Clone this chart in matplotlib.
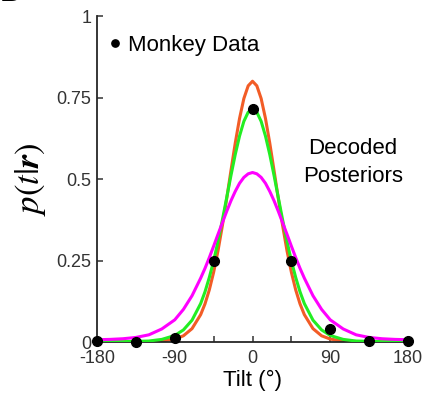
import numpy as np
import matplotlib
matplotlib.use("Agg")
import matplotlib.pyplot as plt

plt.rcParams["font.family"] = ["Liberation Sans", "DejaVu Sans"]
plt.rcParams["mathtext.fontset"] = "stix"

# curvas de posteriores decodificadas
tilt = [-180, -165, -150, -135, -120, -105, -90, -80, -70, -60,
        -55, -50, -45, -40, -35, -30, -25, -20, -15, -10, -5, 0,
        5, 10, 15, 20, 25, 30, 35, 40, 45, 50, 55,
        60, 70, 80, 90, 105, 120, 135, 150, 165, 180]

post_naranja = [0.000, 0.000, 0.000, 0.000, 0.001, 0.003, 0.009, 0.019, 0.041, 0.084,
                0.117, 0.160, 0.214, 0.279, 0.355, 0.438, 0.525, 0.610, 0.686, 0.747, 0.786, 0.800,
                0.786, 0.747, 0.686, 0.610, 0.525, 0.438, 0.355, 0.279, 0.214, 0.160, 0.117,
                0.084, 0.041, 0.019, 0.009, 0.003, 0.001, 0.000, 0.000, 0.000, 0.000]

post_verde = [0.001, 0.001, 0.001, 0.002, 0.003, 0.008, 0.020, 0.037, 0.067, 0.118,
              0.154, 0.198, 0.249, 0.308, 0.373, 0.441, 0.510, 0.575, 0.632, 0.677, 0.705, 0.715,
              0.705, 0.677, 0.632, 0.575, 0.510, 0.441, 0.373, 0.308, 0.249, 0.198, 0.154,
              0.118, 0.067, 0.037, 0.020, 0.008, 0.003, 0.002, 0.001, 0.001, 0.001]

post_magenta = [0.007, 0.008, 0.010, 0.014, 0.022, 0.040, 0.068, 0.100, 0.142, 0.196,
                0.226, 0.259, 0.294, 0.330, 0.365, 0.400, 0.433, 0.462, 0.487, 0.505, 0.516, 0.520,
                0.516, 0.505, 0.487, 0.462, 0.433, 0.400, 0.365, 0.330, 0.294, 0.259, 0.226,
                0.196, 0.142, 0.100, 0.068, 0.040, 0.022, 0.014, 0.010, 0.008, 0.007]

# datos del mono
tilt_mono = [-180, -135, -90, -45, 0, 45, 90, 135, 180]
p_mono = [0.002, 0.000, 0.013, 0.25, 0.715, 0.25, 0.04, 0.003, 0.003]

fig = plt.figure(figsize=(4.27, 3.98), dpi=100)
ax = fig.add_axes([0.2272, 0.1407, 0.7283, 0.819])

ax.plot(tilt, post_naranja, color="#F25C26", lw=2.2, zorder=2)
ax.plot(tilt, post_verde, color="#22EE22", lw=2.2, zorder=3)
ax.plot(tilt, post_magenta, color="#FF00FF", lw=2.2, zorder=4)
puntos, = ax.plot(tilt_mono, p_mono, "o", color="black", ms=7, clip_on=False, zorder=5,
                  label="Monkey Data")

ax.set_xlim(-180, 180)
ax.set_ylim(0, 1)
ax.set_xticks(np.arange(-180, 181, 45))
ax.set_xticklabels(["-180", "", "-90", "", "0", "", "90", "", "180"])
ax.set_yticks([0, 0.25, 0.5, 0.75, 1])
ax.set_yticklabels(["0", "0.25", "0.5", "0.75", "1"])

for s in ["top", "right"]:
    ax.spines[s].set_visible(False)
for s in ["left", "bottom"]:
    ax.spines[s].set_linewidth(1.3)
    ax.spines[s].set_color("#262626")
ax.tick_params(direction="in", length=4, width=1.1, colors="#333333", labelsize=13)
ax.tick_params(axis="x", pad=6)
ax.tick_params(axis="y", pad=4)

ax.set_xlabel("Tilt (°)", fontsize=16, labelpad=2)
ax.set_ylabel(r"$p(t|\boldsymbol{r})$", fontsize=25, labelpad=6)

ax.legend(handles=[puntos], loc="center left", bbox_to_anchor=(0.0, 0.91), frameon=False,
          fontsize=16, handlelength=0.6, handletextpad=0.3, markerscale=0.75, borderpad=0)

ax.text(116, 0.55, "Decoded\nPosteriors", ha="center", va="center", fontsize=16, linespacing=1.45)

fig.text(0.0, 0.997, "D", fontsize=24, fontweight="bold", ha="left", va="baseline")

fig.savefig("out.png", dpi=100)
